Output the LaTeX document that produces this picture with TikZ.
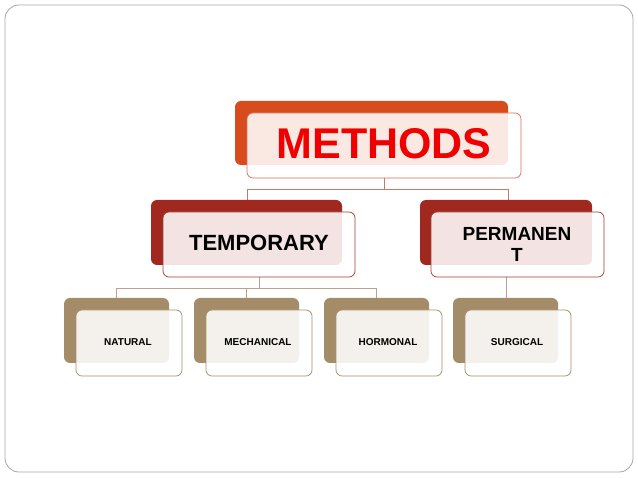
\documentclass[tikz,border=0pt]{standalone}
\usepackage{fontspec}
\setmainfont{Liberation Sans}
\definecolor{cA}{RGB}{200,120,100}
\definecolor{cB}{RGB}{190,160,140}
\definecolor{mback}{RGB}{216,75,28}
\definecolor{mfront}{RGB}{215,110,90}
\definecolor{mtext}{RGB}{240,0,0}
\definecolor{tback}{RGB}{160,40,30}
\definecolor{tfront}{RGB}{160,60,50}
\definecolor{lback}{RGB}{165,140,105}
\definecolor{lfront}{RGB}{165,140,110}
\begin{document}
\begin{tikzpicture}[x=1pt,y=-1pt,
  back/.style={rounded corners=6pt},
  front/.style={rounded corners=6pt,fill=white,fill opacity=0.88,draw,line width=0.7pt},
  lbl/.style={align=center},
  conn/.style={draw=#1,line width=0.6pt}]
\useasboundingbox (0,0) rectangle (638,478);
\draw[rounded corners=14pt,draw=gray!70,line width=0.8pt] (5,5) rectangle (633,472);
% connectors
\draw[conn=cA] (384,178) -- (384,189) (247,200) -- (247,189) -- (508,189) -- (508,200);
\draw[conn=cB] (259,277) -- (259,288) (116,298) -- (116,288) -- (376,288) -- (376,298);
\draw[conn=cB] (506,277) -- (506,298) (246,288)--(246,298);
% METHODS
\fill[back,fill=mback] (235,101) rectangle (508,165);
\draw[front,draw=mfront] (247,113) rectangle (521,178);
\node[lbl,text=mtext,font=\bfseries\fontsize{43}{46}\selectfont] (methods) at (384,144) {METHODS};
% TEMPORARY
\fill[back,fill=tback] (151,200) rectangle (342,265);
\draw[front,draw=tfront] (163,212) rectangle (355,277);
\node[lbl,font=\bfseries\fontsize{22}{24}\selectfont] (temp) at (259,243) {TEMPORARY};
% PERMANENT
\fill[back,fill=tback] (420,200) rectangle (592,265);
\draw[front,draw=tfront] (431,212) rectangle (604,277);
\node[lbl,font=\bfseries\fontsize{19}{21}\selectfont] (perm) at (517,244) {PERMANEN\\T};
% leaves
\foreach \x/\t/\n in {64/NATURAL/nat,194/MECHANICAL/mech,324/HORMONAL/hor,453/SURGICAL/sur}{
  \fill[back,fill=lback] (\x,298) rectangle ({\x+105},363);
  \draw[front,draw=lfront] ({\x+12},310) rectangle ({\x+118},376);
  \node[lbl,font=\bfseries\fontsize{10}{12}\selectfont] (\n) at ({\x+64},342) {\t};
}
\end{tikzpicture}
\end{document}
